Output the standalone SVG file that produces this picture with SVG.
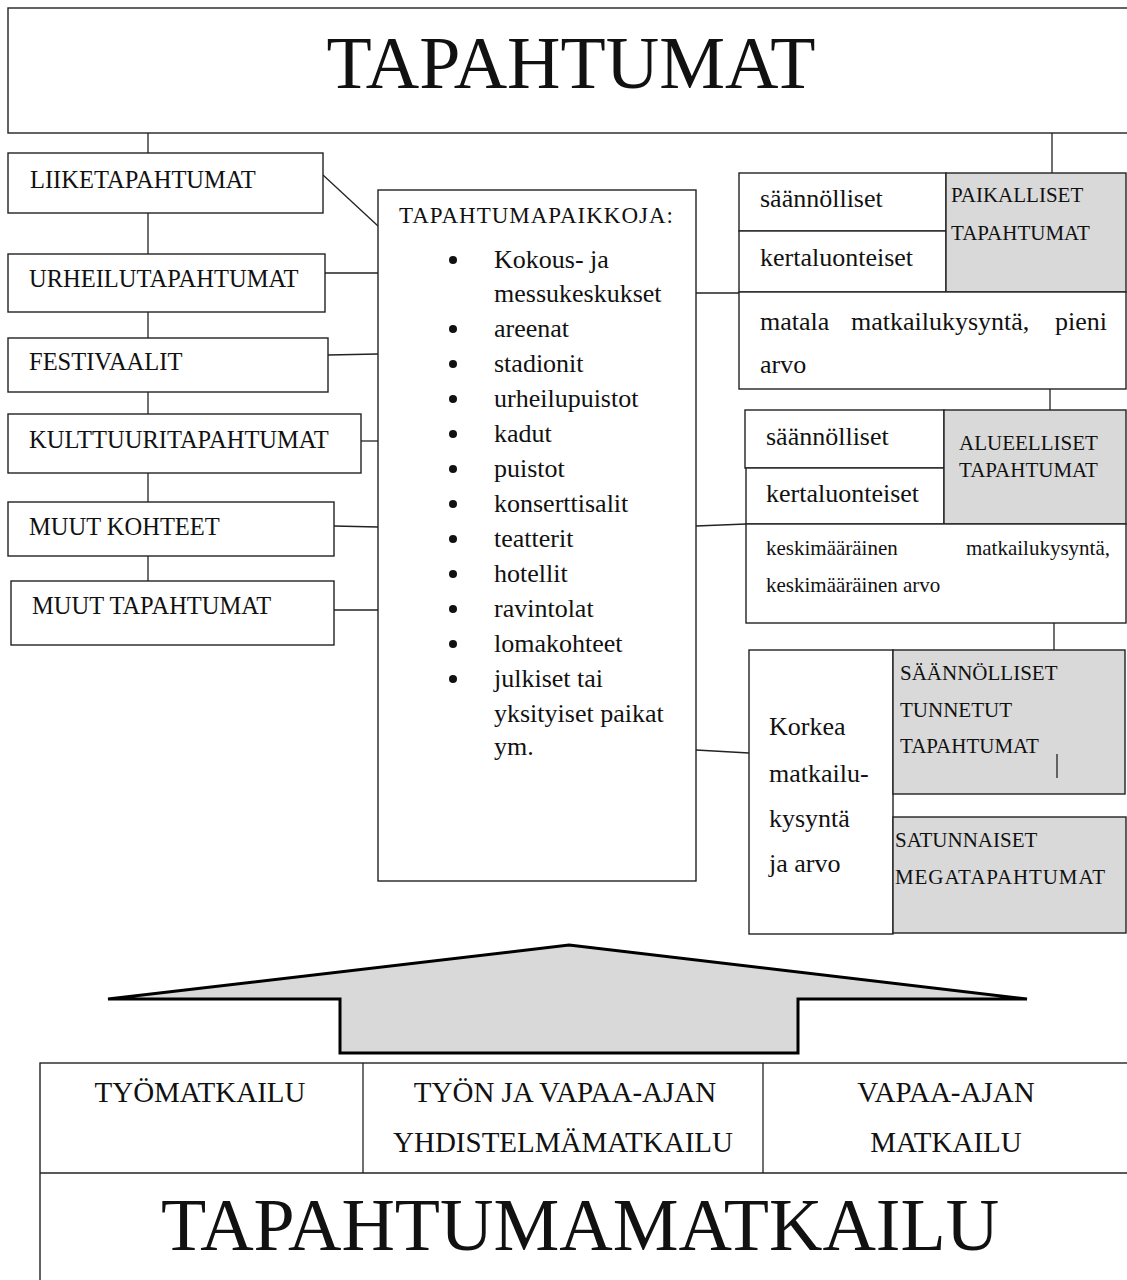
<svg xmlns="http://www.w3.org/2000/svg" width="1127" height="1280" viewBox="0 0 1127 1280">
<style>
.b{fill:#fff;stroke:#222;stroke-width:1.4}
.g{fill:#d9d9d9;stroke:#222;stroke-width:1.4}
.c{fill:none;stroke:#222;stroke-width:1.3}
text{font-family:"Liberation Serif","Times New Roman",serif;fill:#111}
.t23{font-size:23px}
.t24{font-size:24.5px}
.t26{font-size:26px}
.t20{font-size:21px}
.t21{font-size:21px}
.t28{font-size:29px}
.big{font-size:74px}
</style>
<rect width="1127" height="1280" fill="#fff"/>
<g id="connectors">
<line class="c" x1="148" y1="133" x2="148" y2="581"/>
<line class="c" x1="1052" y1="133" x2="1052" y2="173"/>
<line class="c" x1="1050" y1="389" x2="1050" y2="410"/>
<line class="c" x1="1054" y1="623" x2="1054" y2="650"/>
<line class="c" x1="323" y1="175" x2="378" y2="226"/>
<line class="c" x1="325" y1="273" x2="378" y2="273"/>
<line class="c" x1="328" y1="355" x2="378" y2="354"/>
<line class="c" x1="361" y1="441" x2="378" y2="441"/>
<line class="c" x1="334" y1="526" x2="378" y2="527"/>
<line class="c" x1="334" y1="610" x2="378" y2="610"/>
<line class="c" x1="696" y1="293" x2="739" y2="293"/>
<line class="c" x1="696" y1="526" x2="746" y2="524"/>
<line class="c" x1="696" y1="750" x2="749" y2="753"/>
</g>
<g id="tapahtumat">
<rect class="b" x="8" y="8" width="1130" height="125"/>
<text class="big" x="571" y="88" text-anchor="middle">TAPAHTUMAT</text>
</g>
<g id="liiketapahtumat">
<rect class="b" x="8" y="153" width="315" height="60"/>
<text class="t24" x="30" y="188">LIIKETAPAHTUMAT</text>
</g>
<g id="urheilutapahtumat">
<rect class="b" x="8" y="254" width="317" height="58"/>
<text class="t24" x="29" y="287">URHEILUTAPAHTUMAT</text>
</g>
<g id="festivaalit">
<rect class="b" x="8" y="338" width="320" height="54"/>
<text class="t24" x="29" y="370">FESTIVAALIT</text>
</g>
<g id="kulttuuritapahtumat">
<rect class="b" x="8" y="414" width="353" height="59"/>
<text class="t24" x="29" y="448">KULTTUURITAPAHTUMAT</text>
</g>
<g id="muut-kohteet">
<rect class="b" x="8" y="502" width="326" height="54"/>
<text class="t24" x="29" y="535">MUUT KOHTEET</text>
</g>
<g id="muut-tapahtumat">
<rect class="b" x="11" y="581" width="323" height="64"/>
<text class="t24" x="32" y="614">MUUT TAPAHTUMAT</text>
</g>
<g id="tapahtumapaikkoja">
<rect class="b" x="378" y="190" width="318" height="691"/>
<text class="t23" x="399" y="223" textLength="274">TAPAHTUMAPAIKKOJA:</text>
<g fill="#111">
<circle cx="453" cy="260" r="4"/><circle cx="453" cy="329" r="4"/><circle cx="453" cy="364" r="4"/><circle cx="453" cy="399" r="4"/><circle cx="453" cy="434" r="4"/><circle cx="453" cy="469" r="4"/><circle cx="453" cy="504" r="4"/><circle cx="453" cy="539" r="4"/><circle cx="453" cy="574" r="4"/><circle cx="453" cy="609" r="4"/><circle cx="453" cy="644" r="4"/><circle cx="453" cy="679" r="4"/>
</g>
<text class="t26" x="494" y="268">Kokous- ja</text>
<text class="t26" x="494" y="302">messukeskukset</text>
<text class="t26" x="494" y="337">areenat</text>
<text class="t26" x="494" y="372">stadionit</text>
<text class="t26" x="494" y="407">urheilupuistot</text>
<text class="t26" x="494" y="442">kadut</text>
<text class="t26" x="494" y="477">puistot</text>
<text class="t26" x="494" y="512">konserttisalit</text>
<text class="t26" x="494" y="547">teatterit</text>
<text class="t26" x="494" y="582">hotellit</text>
<text class="t26" x="494" y="617">ravintolat</text>
<text class="t26" x="494" y="652">lomakohteet</text>
<text class="t26" x="494" y="687">julkiset tai</text>
<text class="t26" x="494" y="722">yksityiset paikat</text>
<text class="t26" x="494" y="755">ym.</text>
</g>
<g id="paikalliset">
<rect class="b" x="739" y="173" width="207" height="58"/>
<rect class="b" x="739" y="231" width="207" height="61"/>
<rect class="g" x="946" y="173" width="180" height="119"/>
<rect class="b" x="739" y="292" width="387" height="97"/>
<text class="t26" x="760" y="207">säännölliset</text>
<text class="t26" x="760" y="266">kertaluonteiset</text>
<text class="t20" x="951" y="202">PAIKALLISET</text>
<text class="t20" x="951" y="240">TAPAHTUMAT</text>
<text class="t26" x="760" y="330">matala</text>
<text class="t26" x="851" y="330">matkailukysyntä,</text>
<text class="t26" x="1107" y="330" text-anchor="end">pieni</text>
<text class="t26" x="760" y="373">arvo</text>
</g>
<g id="alueelliset">
<rect class="b" x="745" y="410" width="199" height="58"/>
<rect class="b" x="746" y="468" width="198" height="56"/>
<rect class="g" x="944" y="410" width="182" height="114"/>
<rect class="b" x="746" y="524" width="380" height="99"/>
<text class="t26" x="766" y="445">säännölliset</text>
<text class="t26" x="766" y="502">kertaluonteiset</text>
<text class="t20" x="959" y="450">ALUEELLISET</text>
<text class="t20" x="959" y="477">TAPAHTUMAT</text>
<text class="t21" x="766" y="555">keskimääräinen</text>
<text class="t21" x="1110" y="555" text-anchor="end">matkailukysyntä,</text>
<text class="t21" x="766" y="592">keskimääräinen arvo</text>
</g>
<g id="korkea">
<rect class="b" x="749" y="650" width="144" height="284"/>
<rect class="g" x="893" y="650" width="232" height="144"/>
<rect class="g" x="893" y="817" width="233" height="116"/>
<text class="t26" x="769" y="735">Korkea</text>
<text class="t26" x="769" y="782">matkailu-</text>
<text class="t26" x="769" y="827">kysyntä</text>
<text class="t26" x="769" y="872">ja arvo</text>
<text class="t20" x="900" y="680">SÄÄNNÖLLISET</text>
<text class="t20" x="900" y="717">TUNNETUT</text>
<text class="t20" x="900" y="753">TAPAHTUMAT</text>
<line class="c" x1="1057" y1="754" x2="1057" y2="778"/>
<text class="t20" x="895" y="847">SATUNNAISET</text>
<text class="t20" x="895" y="884" textLength="210">MEGATAPAHTUMAT</text>
</g>
<g id="arrow">
<polygon points="569,945 1027,999 798,999 798,1053 340,1053 340,999 108,999" fill="#d9d9d9" stroke="#000" stroke-width="3" stroke-linejoin="miter"/>
</g>
<g id="tapahtumamatkailu">
<rect class="b" x="40" y="1063" width="1100" height="240"/>
<line class="c" x1="40" y1="1173" x2="1127" y2="1173"/>
<line class="c" x1="363" y1="1063" x2="363" y2="1173"/>
<line class="c" x1="763" y1="1063" x2="763" y2="1173"/>
<text class="t28" x="200" y="1102" text-anchor="middle">TYÖMATKAILU</text>
<text class="t28" x="565" y="1102" text-anchor="middle">TYÖN JA VAPAA-AJAN</text>
<text class="t28" x="563" y="1152" text-anchor="middle">YHDISTELMÄMATKAILU</text>
<text class="t28" x="946" y="1102" text-anchor="middle">VAPAA-AJAN</text>
<text class="t28" x="946" y="1152" text-anchor="middle">MATKAILU</text>
<text class="big" x="580" y="1250" text-anchor="middle" font-size="73">TAPAHTUMAMATKAILU</text>
</g>
</svg>
